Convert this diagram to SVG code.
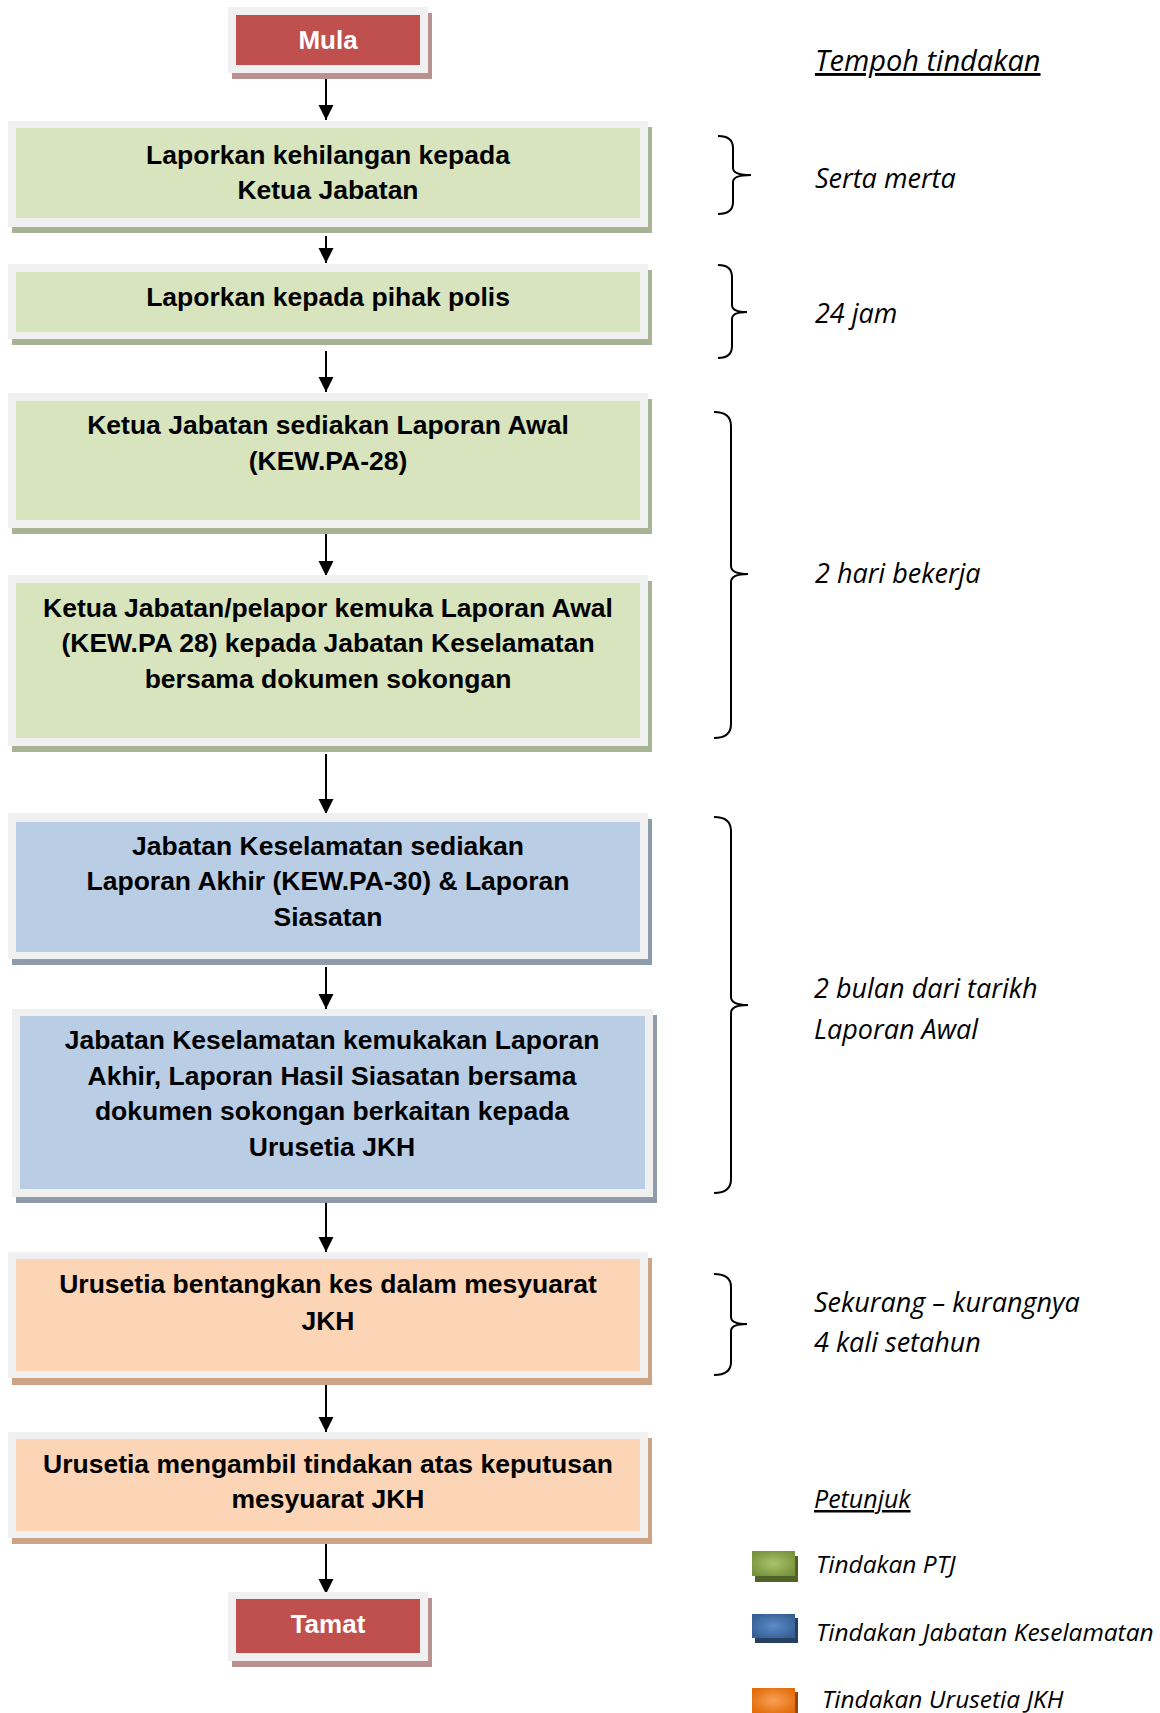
<svg xmlns="http://www.w3.org/2000/svg" width="1160" height="1713" viewBox="0 0 1160 1713">
<defs>
<style>
.frame{fill:#F0F0F0}
.t{font-family:"Liberation Sans",Arial,sans-serif;font-weight:bold;font-size:26.5px;fill:#000;text-anchor:middle}
.tw{font-family:"Liberation Sans",Arial,sans-serif;font-weight:bold;font-size:26px;fill:#fff;text-anchor:middle}
.r{font-family:"Open Sans","Noto Sans",sans-serif;font-style:italic;font-size:27px;fill:#000}
.lg{font-family:"Open Sans","Noto Sans",sans-serif;font-style:italic;font-size:24.5px;fill:#000}
.h{font-family:"Open Sans","Noto Sans",sans-serif;font-style:italic;font-size:29px;fill:#000;text-decoration:underline}
.br{fill:none;stroke:#000;stroke-width:2}
.ar{stroke:#000;stroke-width:2}
</style>
<marker id="ah" markerUnits="userSpaceOnUse" markerWidth="16" markerHeight="16" refX="15" refY="7.5" orient="auto">
<path d="M0,0 L15,7.5 L0,15 Z" fill="#000"/>
</marker>
<radialGradient id="gG" cx="0.5" cy="0.5" r="0.6"><stop offset="0" stop-color="#A9C46A"/><stop offset="1" stop-color="#76923C"/></radialGradient>
<radialGradient id="gB" cx="0.5" cy="0.5" r="0.6"><stop offset="0" stop-color="#5B8BCB"/><stop offset="1" stop-color="#365F91"/></radialGradient>
<radialGradient id="gO" cx="0.5" cy="0.5" r="0.6"><stop offset="0" stop-color="#F9A055"/><stop offset="1" stop-color="#E36C09"/></radialGradient>
</defs>
<rect width="1160" height="1713" fill="#fff"/>

<g id="connectors">
<line class="ar" x1="326" y1="78" x2="326" y2="120" marker-end="url(#ah)"/>
<line class="ar" x1="326" y1="236" x2="326" y2="263" marker-end="url(#ah)"/>
<line class="ar" x1="326" y1="351" x2="326" y2="392" marker-end="url(#ah)"/>
<line class="ar" x1="326" y1="533" x2="326" y2="576" marker-end="url(#ah)"/>
<line class="ar" x1="326" y1="754" x2="326" y2="814" marker-end="url(#ah)"/>
<line class="ar" x1="326" y1="967" x2="326" y2="1009" marker-end="url(#ah)"/>
<line class="ar" x1="326" y1="1203" x2="326" y2="1252" marker-end="url(#ah)"/>
<line class="ar" x1="326" y1="1384" x2="326" y2="1432" marker-end="url(#ah)"/>
<line class="ar" x1="326" y1="1540" x2="326" y2="1594" marker-end="url(#ah)"/>
</g>

<g id="mula">
<rect x="232" y="13" width="200" height="66" fill="#B99290"/>
<rect class="frame" x="228" y="7" width="200" height="66"/>
<rect x="236" y="15" width="184" height="50" fill="#C0504D"/>
<text class="tw" x="328" y="49">Mula</text>
</g>

<g id="n1">
<rect x="12" y="127" width="640" height="106" fill="#A8B396"/>
<rect class="frame" x="8" y="121" width="640" height="106"/>
<rect x="16" y="128" width="624" height="90" fill="#D7E4BD"/>
<text class="t" x="328" y="164">Laporkan kehilangan kepada</text>
<text class="t" x="328" y="199">Ketua Jabatan</text>
</g>

<g id="n2">
<rect x="12" y="270" width="640" height="75" fill="#A8B396"/>
<rect class="frame" x="8" y="264" width="640" height="75"/>
<rect x="16" y="272" width="624" height="60" fill="#D7E4BD"/>
<text class="t" x="328" y="306">Laporkan kepada pihak polis</text>
</g>

<g id="n3">
<rect x="12" y="399" width="640" height="135" fill="#A8B396"/>
<rect class="frame" x="8" y="393" width="640" height="135"/>
<rect x="16" y="401" width="624" height="119" fill="#D7E4BD"/>
<text class="t" x="328" y="434">Ketua Jabatan sediakan Laporan Awal</text>
<text class="t" x="328" y="470">(KEW.PA-28)</text>
</g>

<g id="n4">
<rect x="12" y="581" width="640" height="171" fill="#A8B396"/>
<rect class="frame" x="8" y="575" width="640" height="171"/>
<rect x="16" y="583" width="624" height="155" fill="#D7E4BD"/>
<text class="t" x="328" y="617">Ketua Jabatan/pelapor kemuka Laporan Awal</text>
<text class="t" x="328" y="652">(KEW.PA 28) kepada Jabatan Keselamatan</text>
<text class="t" x="328" y="688">bersama dokumen sokongan</text>
</g>

<g id="n5">
<rect x="12" y="819" width="640" height="146" fill="#8E9BAB"/>
<rect class="frame" x="8" y="813" width="640" height="146"/>
<rect x="16" y="822" width="624" height="130" fill="#B9CDE5"/>
<text class="t" x="328" y="855">Jabatan Keselamatan sediakan</text>
<text class="t" x="328" y="890">Laporan Akhir (KEW.PA-30) &amp; Laporan</text>
<text class="t" x="328" y="926">Siasatan</text>
</g>

<g id="n6">
<rect x="16" y="1015" width="641" height="188" fill="#8E9BAB"/>
<rect class="frame" x="12" y="1009" width="641" height="188"/>
<rect x="20" y="1016" width="625" height="173" fill="#B9CDE5"/>
<text class="t" x="332" y="1049">Jabatan Keselamatan kemukakan Laporan</text>
<text class="t" x="332" y="1085">Akhir, Laporan Hasil Siasatan bersama</text>
<text class="t" x="332" y="1120">dokumen sokongan berkaitan kepada</text>
<text class="t" x="332" y="1156">Urusetia JKH</text>
</g>

<g id="n7">
<rect x="12" y="1258" width="640" height="127" fill="#CCA384"/>
<rect class="frame" x="8" y="1252" width="640" height="126"/>
<rect x="16" y="1259" width="624" height="112" fill="#FBD5B5"/>
<text class="t" x="328" y="1293">Urusetia bentangkan kes dalam mesyuarat</text>
<text class="t" x="328" y="1330">JKH</text>
</g>

<g id="n8">
<rect x="12" y="1438" width="640" height="106" fill="#CCA384"/>
<rect class="frame" x="8" y="1432" width="640" height="106"/>
<rect x="16" y="1439" width="624" height="92" fill="#FBD5B5"/>
<text class="t" x="328" y="1473">Urusetia mengambil tindakan atas keputusan</text>
<text class="t" x="328" y="1508">mesyuarat JKH</text>
</g>

<g id="tamat">
<rect x="232" y="1598" width="200" height="69" fill="#B99290"/>
<rect class="frame" x="228" y="1592" width="200" height="69"/>
<rect x="236" y="1599" width="184" height="54" fill="#C0504D"/>
<text class="tw" x="328" y="1633">Tamat</text>
</g>

<g id="durations">
<text class="h" x="815" y="71">Tempoh tindakan</text>
<path class="br" d="M718,136 Q733,136 733,148 L733,168 Q733,175 751,175 Q733,175 733,182 L733,202 Q733,214 718,214"/>
<text class="r" x="815" y="188">Serta merta</text>
<path class="br" d="M718,265 Q732,265 732,277 L732,305 Q732,312 747,312 Q732,312 732,319 L732,346 Q732,358 718,358"/>
<text class="r" x="815" y="323">24 jam</text>
<path class="br" d="M714,412 Q731,412 731,426 L731,566 Q731,574 748,574 Q731,574 731,582 L731,724 Q731,738 714,738"/>
<text class="r" x="815" y="583">2 hari bekerja</text>
<path class="br" d="M714,817 Q731,817 731,831 L731,997 Q731,1005 748,1005 Q731,1005 731,1013 L731,1179 Q731,1193 714,1193"/>
<text class="r" x="814" y="998">2 bulan dari tarikh</text>
<text class="r" x="814" y="1039">Laporan Awal</text>
<path class="br" d="M714,1274 Q731,1274 731,1287 L731,1317 Q731,1324 747,1324 Q731,1324 731,1331 L731,1362 Q731,1375 714,1375"/>
<text class="r" x="814" y="1312">Sekurang – kurangnya</text>
<text class="r" x="814" y="1352">4 kali setahun</text>
</g>

<g id="legend">
<text class="h" x="814" y="1508" style="font-size:25px">Petunjuk</text>
<rect x="755" y="1556" width="43" height="26" fill="#4F6228"/>
<rect x="752" y="1551" width="43" height="25" fill="url(#gG)"/>
<text class="lg" x="816" y="1573">Tindakan PTJ</text>
<rect x="755" y="1618" width="43" height="25" fill="#254061"/>
<rect x="752" y="1614" width="43" height="24" fill="url(#gB)"/>
<text class="lg" x="816" y="1641">Tindakan Jabatan Keselamatan</text>
<rect x="755" y="1692" width="43" height="25" fill="#974706"/>
<rect x="752" y="1688" width="43" height="25" fill="url(#gO)"/>
<text class="lg" x="822" y="1708">Tindakan Urusetia JKH</text>
</g>
</svg>
